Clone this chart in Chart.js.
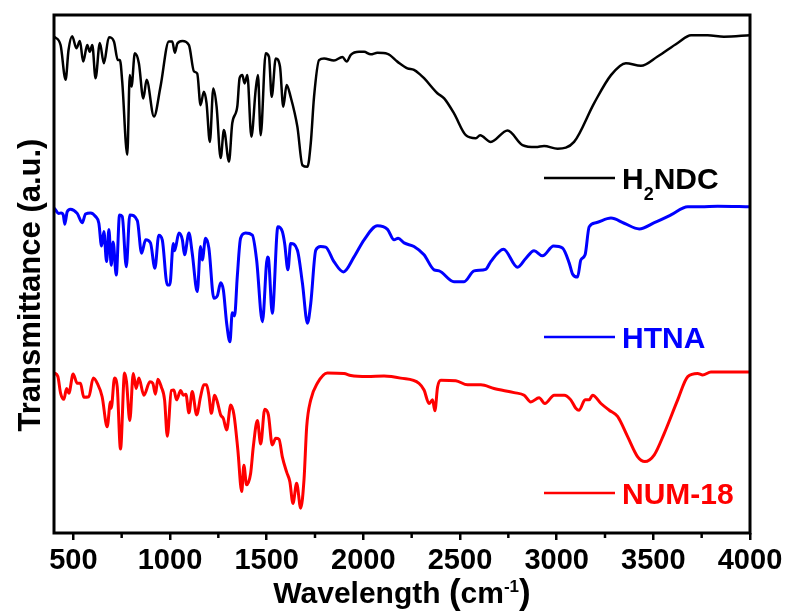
<!DOCTYPE html>
<html>
<head>
<meta charset="utf-8">
<script src="https://cdn.jsdelivr.net/npm/chart.js@4.4.1/dist/chart.umd.min.js"></script>
<style>
  html, body { margin: 0; padding: 0; background: #fff; }
  #wrap { width: 790px; height: 615px; }
</style>
</head>
<body>
<div id="wrap"><canvas id="ir" width="790" height="615"></canvas></div>
<script>
// FT-IR spectra, wavenumber (cm-1) vs. transmittance (arbitrary units, stacked)
const h2ndcWavenumber = [402,434,460,475,494,516,534,551,572,585,598,615,637,658,684,710,730,741,753,779,792,801,818,839,862,879,917,951,994,1012,1025,1038,1064,1098,1124,1141,1158,1175,1189,1206,1224,1241,1262,1279,1305,1322,1348,1360,1374,1386,1400,1421,1443,1455,1469,1495,1512,1526,1547,1569,1586,1603,1624,1659,1685,1711,1728,1745,1771,1797,1848,1892,1914,1935,1978,2004,2038,2073,2125,2176,2228,2262,2297,2314,2383,2418,2469,2530,2582,2604,2659,2746,2823,2892,2935,3005,3090,3194,3281,3358,3436,3522,3626,3695,3781,3865,4000];
const h2ndcT = [95.8,94.2,87.5,93.2,95.9,93.6,95.0,91.0,94.2,92.9,94.2,87.8,94.6,90.7,95.7,94.9,91.3,91.3,87.1,73.0,88.4,86.2,92.6,90.7,83.9,87.5,80.4,86.2,94.9,94.9,92.7,94.5,95.0,94.2,89.1,88.7,82.6,85.2,83.0,75.5,85.8,82.3,72.4,77.8,71.7,79.1,82.3,87.8,88.4,86.8,88.4,76.5,85.5,88.4,76.8,92.6,91.9,84.2,91.6,90.0,82.3,86.5,84.2,78.4,71.0,70.7,75.2,84.2,91.3,91.6,91.2,91.9,91.0,92.3,92.9,92.9,92.4,92.7,92.5,91.0,89.7,89.4,88.4,87.8,84.9,83.9,81.0,76.8,76.2,76.8,75.5,77.7,74.9,74.5,74.7,74.2,75.5,83.0,88.4,90.7,90.2,92.0,94.6,96.1,96.1,95.8,96.1];

const htnaWavenumber = [402,425,437,448,456,468,485,520,546,563,589,615,632,646,658,672,684,696,706,722,739,753,774,792,831,853,874,899,922,942,960,986,999,1017,1024,1046,1064,1075,1098,1115,1141,1158,1167,1184,1201,1227,1245,1262,1276,1293,1310,1322,1334,1348,1365,1391,1426,1448,1478,1504,1509,1529,1558,1581,1593,1610,1624,1659,1685,1711,1728,1754,1779,1805,1848,1897,1952,2004,2073,2125,2159,2180,2211,2262,2314,2366,2392,2469,2521,2573,2633,2659,2725,2798,2840,2883,2927,2984,3030,3065,3082,3108,3125,3147,3168,3203,3281,3349,3427,3505,3591,3678,3746,3833,4000];
const htnaT = [62.7,61.7,61.8,61.4,59.6,62.0,62.5,61.7,59.9,61.6,61.8,61.1,59.8,55.4,58.2,52.4,58.6,51.7,56.2,49.8,61.4,61.1,51.4,61.4,60.3,54.0,56.6,56.0,51.1,57.5,56.6,47.9,47.9,55.9,54.5,57.9,56.6,53.7,57.9,54.0,46.6,55.3,52.7,56.9,55.0,45.3,45.8,48.3,46.9,40.5,36.9,42.5,41.9,49.5,56.9,57.9,57.5,52.7,40.8,53.3,53.1,42.4,59.1,58.2,55.9,50.8,55.9,54.6,48.2,40.5,44.3,54.6,55.3,55.2,52.4,50.4,53.3,56.6,59.3,58.6,56.6,56.9,56.0,55.3,53.7,50.8,50.6,48.5,48.5,50.6,50.9,52.4,54.8,51.3,53.0,54.5,53.5,55.4,55.0,52.1,50.0,49.4,52.7,53.7,59.1,59.9,60.8,59.8,58.7,59.9,61.4,63.0,63.0,63.1,63.0];

const num18Wavenumber = [402,420,434,451,465,477,499,520,537,554,580,603,624,649,675,692,696,713,727,744,765,775,792,810,825,839,865,896,911,925,937,955,972,986,1007,1020,1034,1055,1069,1082,1098,1115,1138,1158,1175,1189,1201,1214,1231,1245,1262,1276,1293,1314,1331,1351,1371,1382,1396,1417,1431,1452,1469,1490,1509,1529,1547,1564,1581,1603,1620,1636,1655,1676,1693,1707,1728,1762,1814,1900,1935,2021,2107,2193,2288,2314,2340,2358,2370,2384,2401,2478,2539,2608,2676,2780,2832,2866,2909,2939,2987,3039,3073,3099,3116,3147,3168,3186,3229,3272,3315,3367,3419,3456,3505,3556,3626,3678,3729,3755,3798,4000];
const num18T = [30.9,30.2,27.0,25.8,27.9,27.0,30.7,28.9,28.9,26.2,26.3,29.9,28.9,26.3,20.5,25.3,24.1,29.9,28.2,16.2,30.9,29.2,21.7,30.8,27.9,29.9,26.6,29.2,28.9,26.8,29.7,28.2,25.7,18.7,27.5,27.6,25.7,27.5,26.6,26.8,23.2,27.3,22.8,26.3,28.6,28.6,26.6,23.1,26.6,25.3,22.8,22.1,19.9,24.7,22.8,16.0,8.0,13.1,9.3,11.5,16.7,21.7,17.2,23.9,22.8,17.0,18.3,18.1,14.7,11.8,9.9,5.7,9.6,4.8,10.2,20.5,25.7,28.9,30.9,30.8,30.4,30.2,30.3,29.9,28.9,27.6,25.0,25.7,23.6,28.2,29.5,29.4,28.6,28.6,27.9,27.1,26.6,25.3,26.1,25.0,26.6,26.6,25.7,24.1,23.7,25.7,25.7,26.6,25.0,23.7,22.5,18.6,14.7,13.8,15.1,19.2,25.7,30.2,30.8,30.5,31.1,31.1];

const seriesNames = ['H2NDC', 'HTNA', 'NUM-18'];
const seriesColors = ['#000000', '#0000ff', '#ff0000'];
const majorTicks = [500, 1000, 1500, 2000, 2500, 3000, 3500, 4000];
const minorTicks = [750, 1250, 1750, 2250, 2750, 3250, 3750];
const xTitle = 'Wavelength';
const yTitle = 'Transmittance (a.u.)';

const FONT = '"Liberation Sans", Arial, Helvetica, sans-serif';

function toPoints(xs, ys) {
  return xs.map((x, i) => ({ x: x, y: ys[i] }));
}

// Frame, minor ticks, axis titles and the inline legend
const decorations = {
  id: 'decorations',
  afterDatasetsDraw(chart) {
    const ctx = chart.ctx;
    const a = chart.chartArea;
    const xs = chart.scales.x;
    ctx.save();

    // minor ticks below the bottom axis
    ctx.strokeStyle = '#000';
    ctx.lineWidth = 2.5;
    minorTicks.forEach(v => {
      const px = xs.getPixelForValue(v);
      ctx.beginPath();
      ctx.moveTo(px, a.bottom);
      ctx.lineTo(px, a.bottom + 5);
      ctx.stroke();
    });

    // box frame
    ctx.lineWidth = 3;
    ctx.strokeRect(a.left, a.top, a.right - a.left, a.bottom - a.top);

    // x axis title with superscript
    ctx.fillStyle = '#000';
    ctx.textBaseline = 'alphabetic';
    ctx.textAlign = 'left';
    const base = 603;
    const fMain = 'bold 30px ' + FONT;
    const fParen = 'bold 35px ' + FONT;
    const fSup = 'bold 17px ' + FONT;
    const parts = [
      { t: xTitle + ' ', f: fMain, dy: 0 },
      { t: '(', f: fParen, dy: 1 },
      { t: 'cm', f: fMain, dy: 0 },
      { t: '-1', f: fSup, dy: -11 },
      { t: ')', f: fParen, dy: 1 }
    ];
    let total = 0;
    parts.forEach(p => { ctx.font = p.f; p.w = ctx.measureText(p.t).width; total += p.w; });
    let cx = (a.left + a.right) / 2 - total / 2;
    parts.forEach(p => { ctx.font = p.f; ctx.fillText(p.t, cx, base + p.dy); cx += p.w; });

    // y axis title, rotated
    ctx.save();
    ctx.translate(40, 285);
    ctx.rotate(-Math.PI / 2);
    ctx.textAlign = 'center';
    ctx.font = 'bold 31px ' + FONT;
    ctx.fillText(yTitle, 0, 0);
    ctx.restore();

    // inline legend: short line sample followed by the coloured name
    const rows = [178, 337, 493];
    const x0 = 544, x1 = 615, tx = 622;
    chart.data.datasets.forEach((ds, i) => {
      const y = rows[i];
      ctx.strokeStyle = ds.borderColor;
      ctx.lineWidth = 2.5;
      ctx.beginPath();
      ctx.moveTo(x0, y);
      ctx.lineTo(x1, y);
      ctx.stroke();
      ctx.fillStyle = ds.borderColor;
      ctx.textAlign = 'left';
      const bl = y + 10.5;
      if (ds.label === 'H2NDC') {
        ctx.font = 'bold 30px ' + FONT;
        ctx.fillText('H', tx, bl);
        let w = ctx.measureText('H').width;
        ctx.font = 'bold 18px ' + FONT;
        ctx.fillText('2', tx + w, bl + 11);
        w += ctx.measureText('2').width;
        ctx.font = 'bold 30px ' + FONT;
        ctx.fillText('NDC', tx + w, bl);
      } else {
        ctx.font = 'bold 30px ' + FONT;
        ctx.fillText(ds.label, tx, bl);
      }
    });

    ctx.restore();
  }
};

const datasets = [
  { label: seriesNames[0], data: toPoints(h2ndcWavenumber, h2ndcT), borderColor: seriesColors[0], borderWidth: 2.5 },
  { label: seriesNames[1], data: toPoints(htnaWavenumber, htnaT), borderColor: seriesColors[1], borderWidth: 3 },
  { label: seriesNames[2], data: toPoints(num18Wavenumber, num18T), borderColor: seriesColors[2], borderWidth: 3 }
].map(d => Object.assign(d, {
  pointRadius: 0,
  fill: false,
  cubicInterpolationMode: 'monotone'
}));

new Chart(document.getElementById('ir'), {
  type: 'line',
  data: { datasets: datasets },
  options: {
    responsive: false,
    animation: false,
    events: [],
    layout: { padding: { left: 54, right: 40, top: 15, bottom: 0 } },
    plugins: { legend: { display: false }, tooltip: { enabled: false } },
    scales: {
      x: {
        type: 'linear',
        min: 400,
        max: 4000,
        afterBuildTicks(scale) { scale.ticks = majorTicks.map(v => ({ value: v })); },
        afterFit(scale) { scale.height = 82; },
        grid: { display: true, drawOnChartArea: false, drawTicks: true, tickLength: 7, lineWidth: 2.5, color: '#000' },
        border: { display: false },
        ticks: {
          color: '#000',
          padding: 4,
          maxRotation: 0,
          autoSkip: false,
          callback: v => String(v),
          font: { family: FONT, size: 29, weight: 'bold' }
        }
      },
      y: {
        display: false,
        min: 0,
        max: 100
      }
    }
  },
  plugins: [decorations]
});
</script>
</body>
</html>
